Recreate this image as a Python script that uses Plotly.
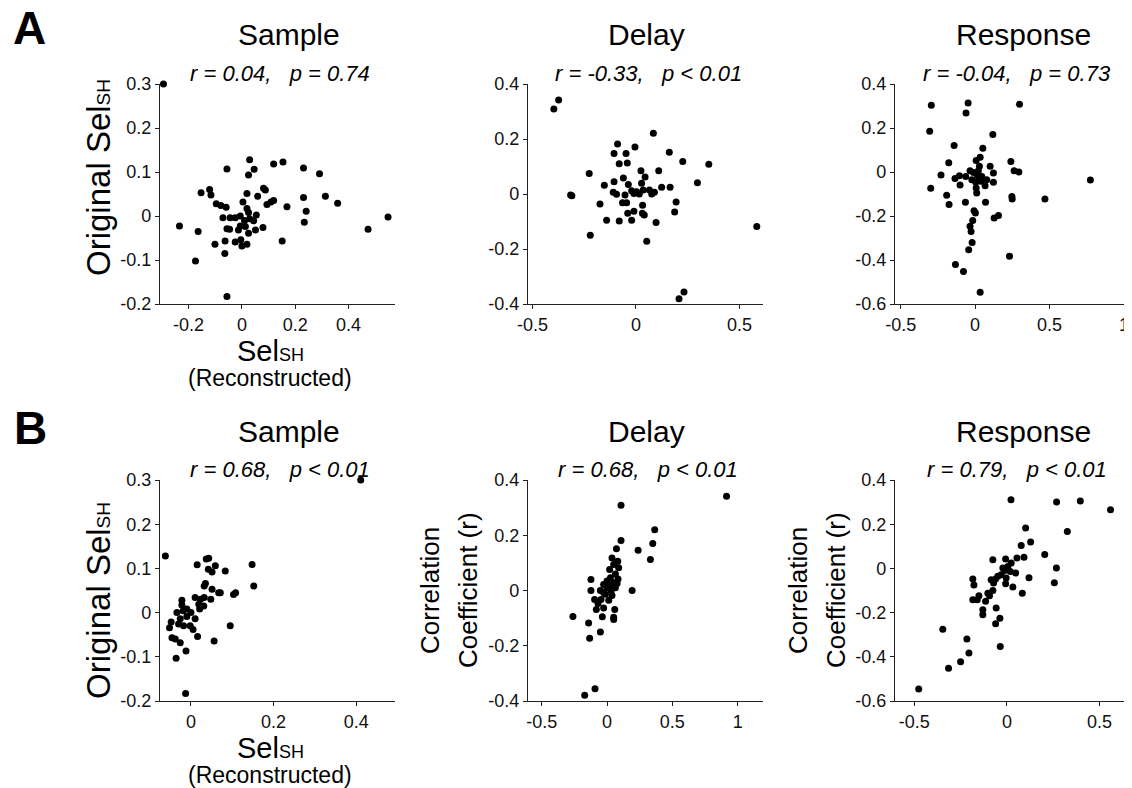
import plotly.graph_objects as go

# Row A: reconstructed vs original SelSH
a_sample_x = [-0.294, -0.056, 0.029, 0.046, 0.025, 0.119, 0.154, 0.231, 0.291, -0.153, -0.121, -0.116, -0.096, -0.079,
              0.019, 0.059, 0.081, 0.088, 0.094, 0.109, 0.119, 0.169, 0.231, 0.241, 0.313, 0.359, 0.548, 0.473, 0.234,
              0.151, -0.234, -0.164, -0.101, -0.174, -0.064, -0.056, -0.056, -0.046, -0.059, 0.004, 0.019, 0.025,
              -0.071, -0.044, -0.025, -0.006, 0.010, 0.029, 0.054, 0.044, -0.006, 0.013, -0.013, 0.025, 0.051, 0.079,
              -0.063, -0.025, -0.004, 0.0, 0.019]
a_sample_y = [0.300, 0.107, 0.128, 0.106, 0.093, 0.118, 0.123, 0.109, 0.096, 0.053, 0.060, 0.048, 0.028, 0.024,
              0.051, 0.045, 0.063, 0.059, 0.026, 0.032, 0.035, 0.021, 0.042, 0.011, 0.045, 0.029, -0.002, -0.030, -0.014,
              -0.057, -0.023, -0.035, -0.064, -0.102, -0.085, -0.183, -0.029, -0.030, 0.020, 0.032, 0.017, 0.008,
              -0.004, -0.004, -0.004, 0.000, -0.010, -0.006, 0.002, -0.011, -0.023, -0.024, -0.032, -0.039, -0.032,
              -0.026, -0.057, -0.059, -0.054, -0.068, -0.064]

a_delay_x = [-0.374, -0.397, 0.084, -0.089, -0.005, -0.106, -0.048, 0.161, -0.081, -0.042, 0.226, 0.352, -0.226, 0.024,
             0.110, -0.061, 0.044, 0.297, -0.106, -0.153, -0.037, 0.027, 0.124, 0.165, -0.316, -0.310, -0.110, -0.094,
             -0.053, -0.021, -0.010, 0.003, 0.016, 0.035, 0.065, 0.076, 0.089, -0.174, -0.065, -0.045, 0.194, 0.032,
             -0.040, -0.010, 0.031, 0.040, 0.187, -0.142, -0.081, -0.021, 0.097, -0.221, 0.052, 0.584, 0.232, 0.208]
a_delay_y = [0.342, 0.309, 0.221, 0.182, 0.171, 0.147, 0.147, 0.152, 0.110, 0.113, 0.118, 0.108, 0.075, 0.085,
             0.085, 0.058, 0.062, 0.041, 0.045, 0.032, 0.035, 0.039, 0.025, 0.025, -0.004, -0.006, 0.006, -0.001,
             -0.004, 0.012, 0.002, 0.008, 0.000, 0.015, 0.015, 0.000, 0.006, -0.036, -0.032, -0.032, -0.029, -0.041,
             -0.070, -0.063, -0.070, -0.076, -0.065, -0.095, -0.098, -0.095, -0.104, -0.150, -0.172, -0.118, -0.356, -0.381]

a_resp_x = [-0.294, -0.047, 0.298, -0.061, -0.305, 0.119, -0.141, 0.052, 0.034, 0.007, -0.177, 0.101, 0.240, 0.262,
            0.294, -0.229, -0.105, -0.135, -0.063, -0.034, -0.011, 0.022, 0.016, 0.045, 0.078, 0.123, 0.123, 0.067,
            0.004, 0.007, 0.011, -0.298, -0.101, 0.774, 0.469, 0.247, 0.249, -0.191, -0.175, -0.065, 0.070, -0.007,
            0.002, 0.128, 0.157, -0.016, -0.034, -0.027, -0.020, -0.043, 0.231, -0.132, -0.078, 0.034, 0.029, -0.022, 0.038]
a_resp_y = [0.303, 0.314, 0.308, 0.268, 0.185, 0.170, 0.121, 0.108, 0.067, 0.052, 0.042, 0.026, 0.048, 0.006,
            0.000, -0.014, -0.017, -0.029, -0.020, 0.006, -0.002, 0.006, -0.017, -0.020, -0.035, -0.005, -0.047, -0.062,
            -0.047, -0.073, -0.095, -0.074, -0.059, -0.036, -0.123, -0.111, -0.123, -0.106, -0.148, -0.138, -0.138,
            -0.176, -0.186, -0.209, -0.198, -0.221, -0.247, -0.270, -0.320, -0.353, -0.383, -0.421, -0.452, -0.547,
            0.026, -0.035, -0.042]

# Row B
b_sample_x = [0.411, -0.062, 0.015, 0.037, 0.043, 0.059, 0.042, 0.051, 0.083, 0.148, 0.152, 0.035, 0.032, 0.051,
              0.067, 0.071, 0.103, 0.108, 0.010, 0.023, -0.022, -0.022, 0.032, 0.048, 0.031, 0.019, -0.034, -0.019,
              0.000, -0.010, 0.010, -0.026, -0.048, -0.052, -0.030, -0.018, -0.002, 0.005, 0.016, 0.095, -0.046,
              -0.038, -0.026, 0.056, -0.012, -0.036, -0.013, 0.021, -0.010]
b_sample_y = [0.300, 0.128, 0.108, 0.121, 0.123, 0.106, 0.098, 0.092, 0.094, 0.109, 0.060, 0.066, 0.060, 0.053,
              0.045, 0.045, 0.041, 0.045, 0.034, 0.030, 0.028, 0.017, 0.034, 0.030, 0.015, 0.019, 0.000, 0.004,
              0.000, -0.009, -0.014, -0.014, -0.021, -0.034, -0.026, -0.030, -0.030, -0.038, -0.054, -0.030, -0.057,
              -0.060, -0.068, -0.064, -0.087, -0.103, -0.183, 0.008, 0.008]

b_delay_x = [0.915, 0.107, 0.365, 0.107, 0.350, 0.238, 0.072, 0.332, 0.038, 0.082, 0.051, 0.089, 0.020, 0.064,
             0.084, -0.123, 0.026, 0.000, 0.051, -0.026, 0.026, 0.000, 0.064, -0.123, -0.051, 0.192, 0.031, -0.026,
             -0.095, -0.046, 0.013, -0.069, -0.082, -0.026, 0.059, -0.036, 0.051, 0.051, -0.261, -0.141, -0.051,
             -0.133, -0.092, -0.171, -0.013, 0.038, 0.077]
b_delay_y = [0.341, 0.309, 0.220, 0.181, 0.170, 0.146, 0.151, 0.112, 0.118, 0.106, 0.094, 0.082, 0.076, 0.060,
             0.042, 0.040, 0.046, 0.034, 0.028, 0.022, 0.018, 0.010, 0.010, 0.000, 0.000, 0.000, -0.002, -0.008,
             -0.033, -0.033, -0.035, -0.047, -0.069, -0.063, -0.069, -0.095, -0.097, -0.105, -0.094, -0.118, -0.150,
             -0.173, -0.356, -0.379, -0.014, -0.018, 0.025]

b_resp_x = [0.022, 0.268, 0.396, 0.559, 0.101, 0.326, 0.128, 0.077, 0.204, 0.092, 0.054, -0.076, -0.007, 0.023,
            0.267, 0.005, -0.022, -0.013, 0.047, 0.018, -0.184, -0.085, -0.061, -0.049, -0.031, -0.004, 0.119, 0.256,
            -0.178, -0.007, 0.032, -0.072, -0.076, 0.083, -0.184, -0.151, -0.160, -0.103, -0.094, -0.115, -0.130,
            -0.130, -0.058, -0.038, -0.061, -0.036, -0.346, -0.216, -0.205, -0.250, -0.315, -0.476]
b_resp_y = [0.311, 0.300, 0.305, 0.265, 0.183, 0.167, 0.119, 0.104, 0.063, 0.050, 0.047, 0.039, 0.042, 0.024,
            0.002, 0.009, 0.002, -0.009, -0.021, -0.014, -0.048, -0.051, -0.048, -0.036, -0.029, -0.044, -0.042,
            -0.065, -0.075, -0.069, -0.084, -0.066, -0.100, -0.112, -0.142, -0.124, -0.142, -0.112, -0.124, -0.149,
            -0.187, -0.210, -0.179, -0.225, -0.250, -0.353, -0.275, -0.320, -0.383, -0.422, -0.452, -0.546]

epochs = ["Sample", "Delay", "Response"]
stats_a = ["r = 0.04,   p = 0.74", "r = -0.33,   p < 0.01", "r = -0.04,   p = 0.73"]
stats_b = ["r = 0.68,   p < 0.01", "r = 0.68,   p < 0.01", "r = 0.79,   p < 0.01"]

# tick values per panel (A1, A2, A3, B1, B2, B3)
xticks = [[-0.2, 0, 0.2, 0.4], [-0.5, 0, 0.5], [-0.5, 0, 0.5, 1],
          [0, 0.2, 0.4], [-0.5, 0, 0.5, 1], [-0.5, 0, 0.5]]
yticks = [[-0.2, -0.1, 0, 0.1, 0.2, 0.3], [-0.4, -0.2, 0, 0.2, 0.4], [-0.6, -0.4, -0.2, 0, 0.2, 0.4],
          [-0.2, -0.1, 0, 0.1, 0.2, 0.3], [-0.4, -0.2, 0, 0.2, 0.4], [-0.6, -0.4, -0.2, 0, 0.2, 0.4]]

W, H = 1132, 788
OFF = 8  # page body margin, positions below are screen pixels
FONT = "Liberation Sans, Arial, Helvetica, sans-serif"

# axis placement (screen pixels) and limits
xdom_px = [(160, 395), (528, 763), (895, 1124), (160, 395), (528, 763), (895, 1132)]
ydom_px = [(84, 304)] * 3 + [(480, 701)] * 3
xranges = [[-0.307, 0.574], [-0.522, 0.614], [-0.538, 1.0], [-0.075, 0.494], [-0.605, 1.194], [-0.604, 0.675]]
yranges = [[-0.2, 0.3], [-0.4, 0.4], [-0.6, 0.4], [-0.2, 0.3], [-0.4, 0.4], [-0.6, 0.4]]

xs = [a_sample_x, a_delay_x, a_resp_x, b_sample_x, b_delay_x, b_resp_x]
ys = [a_sample_y, a_delay_y, a_resp_y, b_sample_y, b_delay_y, b_resp_y]


def fmt(v):
    return "0" if v == 0 else "{:g}".format(v)


def px(x):
    return (x - OFF) / W


def py(y):
    return 1 - (y - OFF) / H


fig = go.Figure()
layout = {}
for i in range(6):
    n = "" if i == 0 else str(i + 1)
    fig.add_trace(go.Scatter(x=xs[i], y=ys[i], mode="markers", xaxis="x" + n, yaxis="y" + n,
                             marker=dict(size=7, color="black", line=dict(width=0)),
                             cliponaxis=False, showlegend=False))
    common = dict(showline=True, linecolor="#222", linewidth=1.2, ticks="outside", ticklen=4,
                  tickcolor="#222", tickwidth=1, showgrid=False, zeroline=False, automargin=False,
                  tickfont=dict(size=18, color="#111", family=FONT))
    layout["xaxis" + n] = dict(common, domain=[px(xdom_px[i][0]), px(xdom_px[i][1])], range=xranges[i],
                               anchor="y" + n, tickvals=xticks[i], ticktext=[fmt(v) for v in xticks[i]])
    layout["yaxis" + n] = dict(common, domain=[py(ydom_px[i][1]), py(ydom_px[i][0])], range=yranges[i],
                               anchor="x" + n, tickvals=yticks[i], ticktext=[fmt(v) for v in yticks[i]])

ann = []


def text(x, y, s, size, angle=0):
    ann.append(dict(x=px(x), y=py(y), xref="paper", yref="paper", text=s, showarrow=False,
                    xanchor="center", yanchor="middle", textangle=angle,
                    font=dict(size=size, color="black", family=FONT)))


# panel letters
text(29, 28, "<b>A</b>", 46)
text(30, 428, "<b>B</b>", 46)

# titles and stats
title_x = [289, 646, 1023]
stat_x = [280, 648, 1017]
for j in range(3):
    text(title_x[j], 35, epochs[j], 30)
    text(title_x[j], 432, epochs[j], 30)
    text(stat_x[j], 74, "<i>" + stats_a[j] + "</i>", 22)
    text(stat_x[j], 469, "<i>" + stats_b[j] + "</i>", 22)

# axis labels
sel = "Sel<span style='font-size:18px'>SH</span>"
text(270, 351, sel, 29)
text(270, 378, "(Reconstructed)", 23)
text(270, 748, sel, 29)
text(270, 775, "(Reconstructed)", 23)

orig = "Original Sel<span style='font-size:19px'>SH</span>"
text(98, 178, orig, 33, -90)
text(98, 601, orig, 33, -90)

text(430, 591, "Correlation", 26, -90)
text(468, 590, "Coefficient (r)", 26, -90)
text(798, 591, "Correlation", 26, -90)
text(836, 590, "Coefficient (r)", 26, -90)

fig.update_layout(**layout)
fig.update_layout(width=W, height=H, autosize=False, margin=dict(l=0, r=0, t=0, b=0, pad=0),
                  paper_bgcolor="white", plot_bgcolor="white", annotations=ann,
                  font=dict(family=FONT, color="black"))
fig.write_html("out.html")
